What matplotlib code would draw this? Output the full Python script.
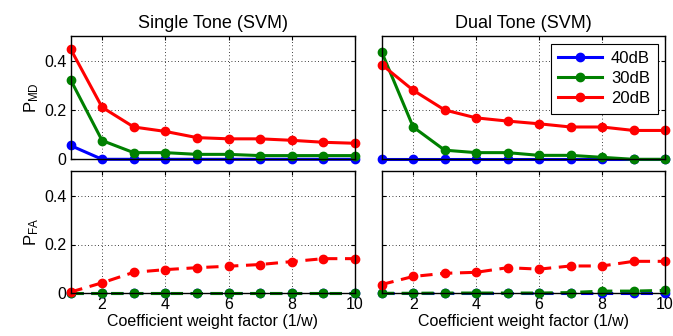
import matplotlib
matplotlib.use("Agg")
import matplotlib.pyplot as plt

plt.rcParams['font.family'] = ['Liberation Sans', 'DejaVu Sans']
plt.rcParams['mathtext.default'] = 'regular'

x = [1, 2, 3, 4, 5, 6, 7, 8, 9, 10]
labels = ['40dB', '30dB', '20dB']
colors = ['#0000ff', '#008000', '#ff0000']

single_pmd_40 = [0.056, 0, 0, 0, 0, 0, 0, 0, 0, 0]
single_pmd_30 = [0.323, 0.076, 0.027, 0.027, 0.020, 0.020, 0.015, 0.015, 0.015, 0.015]
single_pmd_20 = [0.448, 0.211, 0.131, 0.113, 0.088, 0.083, 0.083, 0.077, 0.069, 0.065]

dual_pmd_40 = [0, 0, 0, 0, 0, 0, 0, 0, 0, 0]
dual_pmd_30 = [0.435, 0.131, 0.037, 0.027, 0.027, 0.016, 0.016, 0.008, 0.0, 0.0]
dual_pmd_20 = [0.384, 0.280, 0.200, 0.168, 0.155, 0.144, 0.131, 0.131, 0.117, 0.117]

single_pfa_40 = [0, 0, 0, 0, 0, 0, 0, 0, 0, 0]
single_pfa_30 = [0, 0, 0, 0, 0, 0, 0, 0, 0, 0]
single_pfa_20 = [0.005, 0.043, 0.086, 0.097, 0.105, 0.111, 0.118, 0.130, 0.142, 0.142]

dual_pfa_40 = [0, 0, 0, 0, 0, 0, 0, 0, 0, 0]
dual_pfa_30 = [0, 0, 0.001, 0.001, 0.001, 0.001, 0.003, 0.009, 0.009, 0.012]
dual_pfa_20 = [0.036, 0.069, 0.082, 0.086, 0.105, 0.099, 0.112, 0.112, 0.131, 0.131]

fig = plt.figure(figsize=(6.73, 3.36), dpi=100)
W, H = 673, 336
def box(l, t, r, b):
    return [l / W, 1 - b / H, (r - l) / W, (b - t) / H]

ax_tl = fig.add_axes(box(70.5, 36, 355, 159.3))
ax_tr = fig.add_axes(box(381.7, 36, 665, 159.3))
ax_bl = fig.add_axes(box(70.5, 171.3, 355, 293.3))
ax_br = fig.add_axes(box(381.7, 171.3, 665, 293.3))

def draw(ax, series, ls):
    for ys, c, lab in zip(series, colors, labels):
        ax.plot(x, ys, color=c, linestyle=ls, linewidth=2.2, marker='o',
                markersize=6, label=lab, clip_on=False, zorder=3,
                dashes=(4, 2.5) if ls == '--' else (None, None))

draw(ax_tl, [single_pmd_40, single_pmd_30, single_pmd_20], '-')
draw(ax_tr, [dual_pmd_40, dual_pmd_30, dual_pmd_20], '-')
draw(ax_bl, [single_pfa_40, single_pfa_30, single_pfa_20], '--')
draw(ax_br, [dual_pfa_40, dual_pfa_30, dual_pfa_20], '--')

for ax in [ax_tl, ax_tr, ax_bl, ax_br]:
    ax.set_xlim(1, 10)
    ax.set_ylim(0, 0.5)
    ax.set_xticks([2, 4, 6, 8, 10])
    ax.set_yticks([0, 0.2, 0.4])
    ax.set_yticklabels(['0', '0.2', '0.4'])
    ax.grid(True, color='black', linestyle=(0, (1, 3)), linewidth=0.6)
    ax.set_axisbelow(True)
    ax.tick_params(direction='in', length=3, labelsize=11.5, top=True, right=True,
                   width=0.8, pad=3)
    for s in ax.spines.values():
        s.set_linewidth(1.0)
        s.set_zorder(5)

for ax in [ax_tl, ax_tr]:
    ax.tick_params(labelbottom=False)
for ax in [ax_tr, ax_br]:
    ax.tick_params(labelleft=False)

ax_tl.set_title('Single Tone (SVM)', fontsize=13, pad=6)
ax_tr.set_title('Dual Tone (SVM)', fontsize=13, pad=6)
ax_tl.set_ylabel('P$_{MD}$', fontsize=12, labelpad=2)
ax_bl.set_ylabel('P$_{FA}$', fontsize=12, labelpad=2)
ax_bl.set_xlabel('Coefficient weight factor (1/w)', fontsize=11.5, labelpad=1)
ax_br.set_xlabel('Coefficient weight factor (1/w)', fontsize=11.5, labelpad=1)

leg = ax_tr.legend(loc='upper right', fontsize=12, frameon=True, fancybox=False,
                   edgecolor='black', framealpha=1, borderaxespad=0.45,
                   handlelength=2.6, labelspacing=0.3, borderpad=0.45,
                   handletextpad=0.55)
leg.get_frame().set_linewidth(0.8)

fig.savefig('out.png', dpi=100)
